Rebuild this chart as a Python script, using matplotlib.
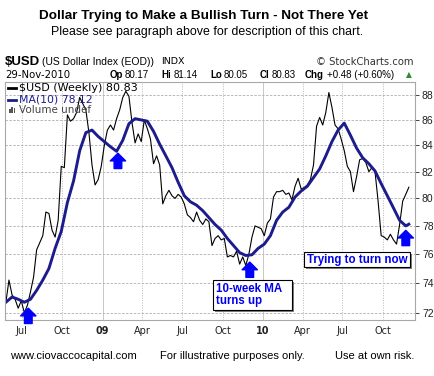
import matplotlib.pyplot as plt
from matplotlib.patches import Rectangle
from matplotlib.ticker import NullLocator, NullFormatter
import pandas as pd

plt.rcParams['font.family'] = ['Liberation Sans', 'DejaVu Sans']

# weekly closes of $USD
week_dates = pd.date_range('2008-05-26', periods=132, freq='7D')
usd_close = [
    72.7, 74.2, 73.2, 72.9, 72.3, 72.8, 72.0, 72.5, 73.4, 74.4,
    76.3, 76.8, 77.3, 79.0, 78.9, 77.7, 77.2, 78.4, 82.4, 82.3,
    86.4, 85.9, 86.1, 86.6, 87.8, 87.3, 86.8, 85.0, 82.5, 81.0,
    81.4, 82.4, 84.0, 85.2, 85.6, 85.2, 86.1, 86.8, 87.8, 88.3,
    87.9, 85.8, 84.2, 84.9, 84.3, 86.0, 85.3, 84.5, 82.6, 83.2,
    82.5, 79.6, 80.2, 80.6, 80.2, 80.0, 80.3, 80.1, 79.6, 78.8,
    78.6, 78.3, 79.0, 78.4, 78.1, 78.5, 78.3, 76.6, 77.1, 77.3,
    77.0, 77.1, 75.8, 75.9, 75.8, 76.2, 75.3, 75.8, 75.2, 76.0,
    77.2, 78.0, 77.9, 77.8, 77.3, 78.2, 78.5, 80.1, 80.5, 80.5,
    80.6, 80.3, 80.4, 79.9, 80.9, 81.5, 80.7, 80.8, 81.0, 81.4,
    82.5, 85.5, 86.2, 85.6, 86.6, 88.2, 87.0, 85.6, 85.3, 84.5,
    83.6, 82.4, 82.0, 80.5, 81.6, 82.9, 83.0, 82.7, 82.0, 82.3,
    82.0, 79.8, 77.3, 77.2, 77.0, 77.4, 77.0, 76.7, 78.1, 79.8,
    80.3, 80.83,
]

# 10-week moving average, read every second week
ma_dates = week_dates[list(range(0, 131, 2)) + [131]]
ma10 = [
    72.7, 73.05, 72.9, 72.7, 72.9, 73.5, 74.2, 75.0, 76.4, 77.6,
    79.7, 81.3, 83.6, 85.0, 85.2, 84.7, 84.3, 83.9, 83.55, 84.4,
    85.7, 86.1, 86.0, 85.9, 85.1, 84.1, 83.2, 82.3, 81.2, 80.2,
    79.75, 79.5, 79.1, 78.6, 78.1, 77.7, 77.1, 76.6, 76.1, 75.9,
    75.95, 76.4, 76.7, 77.3, 78.4, 79.0, 79.35, 80.1, 80.55, 80.9,
    81.55, 82.2, 83.2, 84.3, 85.2, 85.75, 84.8, 83.8, 83.05, 82.6,
    82.05, 81.1, 80.2, 79.3, 78.4, 78.0,
    78.12,
]

tick_dates = pd.to_datetime(['2008-07-01', '2008-10-01', '2009-01-01', '2009-04-01',
                             '2009-07-01', '2009-10-01', '2010-01-01', '2010-04-01',
                             '2010-07-01', '2010-10-01'])
tick_labels = ['Jul', 'Oct', '09', 'Apr', 'Jul', 'Oct', '10', 'Apr', 'Jul', 'Oct']
y_ticks = [72, 74, 76, 78, 80, 82, 84, 86, 88]

arrow_dates = pd.to_datetime(['2008-07-16', '2009-02-05', '2009-12-02', '2010-11-22'])
arrow_tips = [72.3, 83.4, 75.44, 77.68]

W, H = 435, 376


def fx(px):
    return px / W


def fy(py):
    return 1 - py / H


fig = plt.figure(figsize=(4.35, 3.76), dpi=100)
ax = fig.add_axes([fx(5), fy(320), fx(415) - fx(5), fy(82) - fy(320)])

ax.plot(week_dates, usd_close, color='black', lw=0.8)
ax.plot(ma_dates, ma10, color='#1c1c8c', lw=2.1)

ax.set_yscale('log')
ax.set_ylim(71.52, 89.06)
ax.set_xlim(pd.Timestamp('2008-05-24'), pd.Timestamp('2010-12-13'))
ax.yaxis.tick_right()
ax.set_yticks(y_ticks)
ax.set_yticklabels([str(v) for v in y_ticks])
ax.yaxis.set_minor_locator(NullLocator())
ax.yaxis.set_minor_formatter(NullFormatter())
ax.set_xticks(tick_dates)
ax.set_xticklabels(tick_labels, family='DejaVu Sans')
for lab in ax.get_xticklabels():
    if lab.get_text() in ('09', '10'):
        lab.set_fontweight('bold')
ax.tick_params(axis='y', direction='out', length=3, width=0.6, colors='#222222',
               labelsize=7.5, pad=2)
ax.tick_params(axis='x', length=0, labelsize=7, pad=4, colors='#222222')

ax.grid(True, axis='y', color='#b8b8b8', linestyle=(0, (2.5, 1.5)), lw=0.7)
ax.grid(True, axis='x', color='#b8b8b8', linestyle=(0, (1, 1.5)), lw=0.7)
for lab, gl in zip(tick_labels, ax.xaxis.get_gridlines()):
    if lab in ('09', '10'):
        gl.set_linestyle('-')
        gl.set_color('#c8c8c8')
for sp in ax.spines.values():
    sp.set_color('#a8a8a8')
    sp.set_linestyle((0, (1, 1)))
    sp.set_linewidth(0.8)

for d, v in zip(arrow_dates, arrow_tips):
    ax.annotate('', xy=(d, v), xytext=(0, -11), textcoords='offset points',
                annotation_clip=False,
                arrowprops=dict(arrowstyle='simple,head_length=0.55,head_width=1.1,tail_width=0.55',
                                mutation_scale=10, color='#0000ff', shrinkA=0, shrinkB=0))

# legend inside the plot
lx = 8
fig.add_artist(plt.Line2D([fx(lx), fx(lx + 8)], [fy(88), fy(88)], color='black', lw=2))
fig.text(fx(lx + 11), fy(88), '$USD (Weekly) 80.83', family='DejaVu Sans', fontsize=8,
         va='center', ha='left')
fig.add_artist(plt.Line2D([fx(lx), fx(lx + 8)], [fy(100), fy(100)], color='#1c1c8c', lw=2))
fig.text(fx(lx + 11), fy(100), 'MA(10) 78.12', family='DejaVu Sans', fontsize=7.8,
         color='#1c1c8c', va='center', ha='left')
for k, hgt in enumerate([4, 6, 5]):
    fig.add_artist(Rectangle((fx(lx + 1 + k * 2.3), fy(113)), fx(1.6), hgt / H,
                             transform=fig.transFigure, color='#555555', lw=0))
fig.text(fx(lx + 11), fy(110), 'Volume undef', family='DejaVu Sans', fontsize=7.5,
         color='#444444', va='center', ha='left')

# annotation boxes
boxes = [(213, 280, 292, 310, '10-week MA\nturns up'),
         (304, 252, 410, 267, 'Trying to turn now')]
for x0, y0, x1, y1, txt in boxes:
    fig.add_artist(Rectangle((fx(x0 + 2), fy(y1 + 2)), fx(x1 - x0), (y1 - y0) / H,
                             transform=fig.transFigure, fc='#808080', ec='none'))
    fig.add_artist(Rectangle((fx(x0), fy(y1)), fx(x1 - x0), (y1 - y0) / H,
                             transform=fig.transFigure, fc='white', ec='black', lw=0.8))
    fig.text(fx(x0 + 3), fy((y0 + y1) / 2), txt, fontsize=8.3, fontweight='bold',
             color='#0000ee', va='center', ha='left', linespacing=1.05)

# titles and header
fig.text(fx(204), fy(16), 'Dollar Trying to Make a Bullish Turn - Not There Yet',
         fontsize=9.7, fontweight='bold', ha='center', va='center')
fig.text(fx(207), fy(32), 'Please see paragraph above for description of this chart.',
         fontsize=8.9, ha='center', va='center')

fig.text(fx(5), fy(62), '$USD', fontsize=9.5, fontweight='bold', va='center')
fig.text(fx(42), fy(62), '(US Dollar Index (EOD))', fontsize=7.5, va='center')
fig.text(fx(161), fy(62), 'INDX', fontsize=6.8, family='DejaVu Sans', va='center')
fig.text(fx(414), fy(62), '\u00a9 StockCharts.com', fontsize=7.2, family='DejaVu Sans',
         color='#333333', ha='right', va='center')

fig.text(fx(5), fy(75), '29-Nov-2010', fontsize=7.3, family='DejaVu Sans', va='center')
header_items = [(110, 'Op', True), (125, '80.17', False), (161, 'Hi', True),
                (174, '81.14', False), (210, 'Lo', True), (224, '80.05', False),
                (260, 'Cl', True), (272, '80.83', False), (305, 'Chg', True),
                (327, '+0.48 (+0.60%)', False)]
for px, txt, bold in header_items:
    fig.text(fx(px), fy(75), txt, fontsize=7, fontweight='bold' if bold else 'normal',
             va='center', ha='left')
fig.text(fx(409), fy(75), '\u25b2', fontsize=5.5, color='#2e8b2e', family='DejaVu Sans',
         ha='center', va='center')

# footer
fig.text(fx(10), fy(356), 'www.ciovaccocapital.com', fontsize=8, va='center', ha='left')
fig.text(fx(160), fy(356), 'For illustrative purposes only.', fontsize=8, va='center', ha='left')
fig.text(fx(414), fy(356), 'Use at own risk.', fontsize=8, va='center', ha='right')

fig.savefig('out.png', dpi=100)
